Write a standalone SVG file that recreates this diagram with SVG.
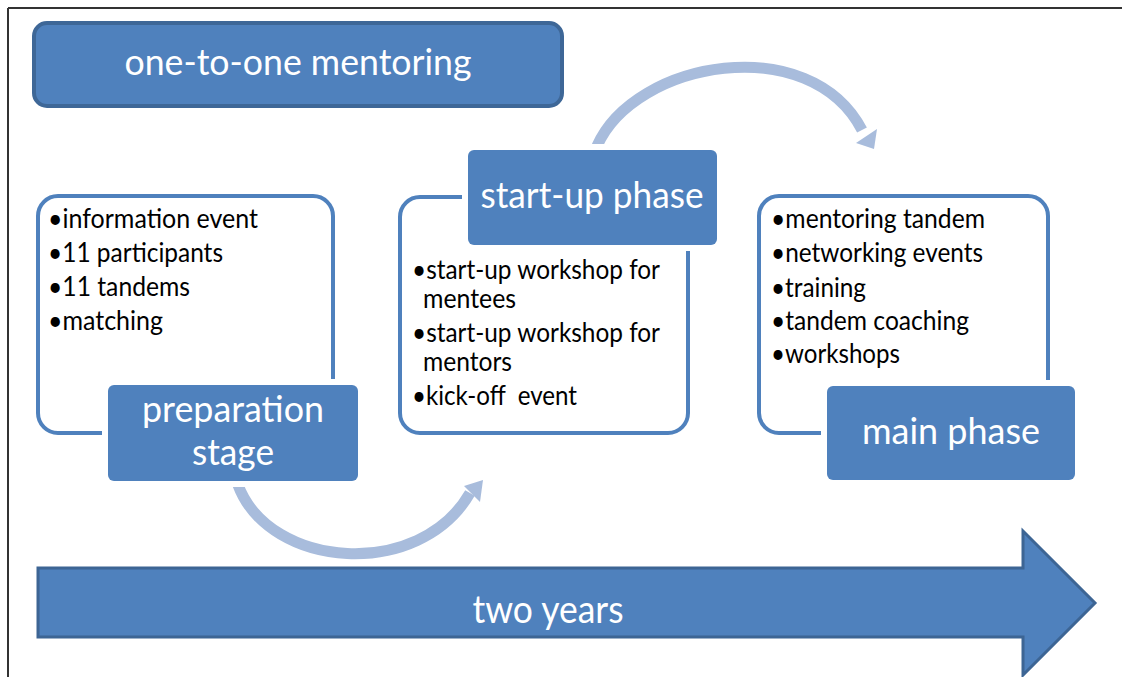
<svg xmlns="http://www.w3.org/2000/svg" width="1122" height="677" viewBox="0 0 1122 677">
<style>
  .outline { fill: #ffffff; stroke: #4f81bd; stroke-width: 4; }
  .gap { fill: #ffffff; }
  .fill { fill: #4f81bd; }
  .title { font-family: Lato, "Open Sans", "Liberation Sans", sans-serif; fill: #ffffff; text-anchor: middle; }
  .bul { font-family: Lato, "Open Sans", "Liberation Sans", sans-serif; font-size: 26px; fill: #000000; }
  .arc { fill: none; stroke: #a8bcdc; stroke-width: 11; }
  .head { fill: #a8bcdc; }
</style>
<rect x="0" y="0" width="1122" height="677" fill="#ffffff"/>
<g id="frame">
  <line x1="8" y1="8" x2="1122" y2="8" stroke="#333333" stroke-width="2"/>
  <line x1="8" y1="8" x2="8" y2="677" stroke="#333333" stroke-width="2"/>
</g>
<g id="connectors">
  <path class="arc" d="M238,485 C270,570 420,580 470,493"/>
  <polygon class="head" points="464,486 480,502 483,480"/>
  <path class="arc" d="M597,146 C635,60 810,30 862,130"/>
  <polygon class="head" points="856,143 877,129 874,149"/>
</g>
<g id="title">
  <rect x="34" y="23" width="528" height="83" rx="13" fill="#4f81bd" stroke="#3e6797" stroke-width="4"/>
  <text class="title" x="298" y="75" font-size="36" textLength="347" lengthAdjust="spacingAndGlyphs">one-to-one mentoring</text>
</g>
<g id="preparation">
  <rect class="outline" x="38" y="196" width="295" height="237" rx="20"/>
  <text class="bul" x="48" y="228" textLength="210" lengthAdjust="spacingAndGlyphs">•information event</text>
  <text class="bul" x="48" y="262" textLength="175" lengthAdjust="spacingAndGlyphs">•11 participants</text>
  <text class="bul" x="48" y="296" textLength="142" lengthAdjust="spacingAndGlyphs">•11 tandems</text>
  <text class="bul" x="48" y="330" textLength="115" lengthAdjust="spacingAndGlyphs">•matching</text>
  <rect class="gap" x="102" y="379" width="262" height="108" rx="9"/>
  <rect class="fill" x="108" y="385" width="250" height="96" rx="6"/>
  <text class="title" x="233" y="422" font-size="37" textLength="182" lengthAdjust="spacingAndGlyphs">preparation</text>
  <text class="title" x="233" y="465" font-size="37" textLength="82" lengthAdjust="spacingAndGlyphs">stage</text>
</g>
<g id="startup">
  <rect class="outline" x="400" y="197" width="288" height="236" rx="20"/>
  <rect class="gap" x="462" y="144" width="261" height="107" rx="9"/>
  <rect class="fill" x="468" y="150" width="249" height="95" rx="6"/>
  <text class="title" x="592" y="208" font-size="37" textLength="223" lengthAdjust="spacingAndGlyphs">start-up phase</text>
  <text class="bul" x="412" y="279" textLength="248" lengthAdjust="spacingAndGlyphs">•start-up workshop for</text>
  <text class="bul" x="423" y="308" textLength="93" lengthAdjust="spacingAndGlyphs">mentees</text>
  <text class="bul" x="412" y="342" textLength="248" lengthAdjust="spacingAndGlyphs">•start-up workshop for</text>
  <text class="bul" x="423" y="371" textLength="89" lengthAdjust="spacingAndGlyphs">mentors</text>
  <text class="bul" x="412" y="405" textLength="165" lengthAdjust="spacingAndGlyphs" xml:space="preserve">•kick-off  event</text>
</g>
<g id="main">
  <rect class="outline" x="759" y="196" width="289" height="237" rx="20"/>
  <text class="bul" x="771" y="228" textLength="214" lengthAdjust="spacingAndGlyphs">•mentoring tandem</text>
  <text class="bul" x="771" y="262" textLength="212" lengthAdjust="spacingAndGlyphs">•networking events</text>
  <text class="bul" x="771" y="297" textLength="95" lengthAdjust="spacingAndGlyphs">•training</text>
  <text class="bul" x="771" y="330" textLength="198" lengthAdjust="spacingAndGlyphs">•tandem coaching</text>
  <text class="bul" x="771" y="363" textLength="129" lengthAdjust="spacingAndGlyphs">•workshops</text>
  <rect class="gap" x="821" y="380" width="260" height="106" rx="9"/>
  <rect class="fill" x="827" y="386" width="248" height="94" rx="6"/>
  <text class="title" x="951" y="444" font-size="37" textLength="178" lengthAdjust="spacingAndGlyphs">main phase</text>
</g>
<g id="timeline">
  <polygon points="38,568 1023,568 1023,531 1095,603 1023,675 1023,637 38,637" fill="#4f81bd" stroke="#3d6594" stroke-width="3" stroke-linejoin="miter"/>
  <text class="title" x="548" y="623" font-size="38" textLength="151" lengthAdjust="spacingAndGlyphs">two years</text>
</g>
</svg>
